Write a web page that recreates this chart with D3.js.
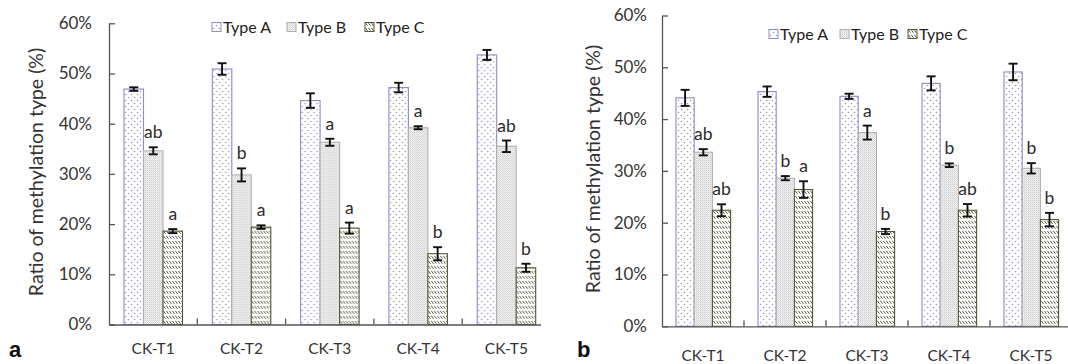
<!DOCTYPE html>
<html>
<head>
<meta charset="utf-8">
<script src="https://cdn.jsdelivr.net/npm/d3@7"></script>
<style>
  body { margin: 0; background: #fff; }
  svg { display: block; font-family: Lato, "Open Sans", sans-serif; }
</style>
</head>
<body>
<script>
const width = 1068;
const height = 364;

// categories and series
const categories = ["CK-T1", "CK-T2", "CK-T3", "CK-T4", "CK-T5"];
const seriesNames = ["Type A", "Type B", "Type C"];
const yTicks = [0, 10, 20, 30, 40, 50, 60];

// panel a : means (%)
const aTypeA = [46.9, 50.9, 44.6, 47.2, 53.7];
const aTypeB = [34.6, 29.8, 36.3, 39.2, 35.5];
const aTypeC = [18.6, 19.4, 19.2, 14.1, 11.3];
// panel a : error (+/-)
const aErrA = [0.35, 1.15, 1.45, 0.95, 1.0];
const aErrB = [0.7, 1.3, 0.7, 0.3, 1.15];
const aErrC = [0.4, 0.35, 1.1, 1.3, 0.8];
// panel a : letters
const aLetB = ["ab", "b", "a", "a", "ab"];
const aLetC = ["a", "a", "a", "b", "b"];

// panel b : means (%)
const bTypeA = [44.1, 45.3, 44.4, 46.9, 49.1];
const bTypeB = [33.6, 28.6, 37.4, 31.1, 30.5];
const bTypeC = [22.4, 26.4, 18.3, 22.4, 20.6];
// panel b : error (+/-)
const bErrA = [1.55, 1.0, 0.5, 1.35, 1.6];
const bErrB = [0.6, 0.4, 1.35, 0.35, 1.0];
const bErrC = [1.15, 1.6, 0.5, 1.2, 1.3];
// panel b : letters
const bLetB = ["ab", "b", "a", "b", "b"];
const bLetC = ["ab", "a", "b", "ab", "b"];

const svg = d3.select("body").append("svg")
    .attr("width", width)
    .attr("height", height);

// motifs de remplissage
const defs = svg.append("defs");

const pA = defs.append("pattern").attr("id", "patA")
    .attr("patternUnits", "userSpaceOnUse").attr("width", 6).attr("height", 6);
pA.append("rect").attr("width", 6).attr("height", 6).attr("fill", "#fff");
pA.append("circle").attr("cx", 1.5).attr("cy", 1.5).attr("r", 0.8).attr("fill", "#9a9ab4");
pA.append("circle").attr("cx", 4.5).attr("cy", 4.5).attr("r", 0.8).attr("fill", "#9a9ab4");

const pB = defs.append("pattern").attr("id", "patB")
    .attr("patternUnits", "userSpaceOnUse").attr("width", 2).attr("height", 2);
pB.append("rect").attr("width", 2).attr("height", 2).attr("fill", "#f2f2f2");
pB.append("rect").attr("width", 1).attr("height", 1).attr("fill", "#cdcdcd");
pB.append("rect").attr("x", 1).attr("y", 1).attr("width", 1).attr("height", 1).attr("fill", "#dedede");

const pC = defs.append("pattern").attr("id", "patC")
    .attr("patternUnits", "userSpaceOnUse").attr("width", 3).attr("height", 5);
pC.append("rect").attr("width", 3).attr("height", 5).attr("fill", "#fff");
pC.append("line").attr("x1", 0.3).attr("y1", 0.8).attr("x2", 2.5).attr("y2", 3.8)
    .attr("stroke", "#4a5030").attr("stroke-width", 0.95);

const fills = ["url(#patA)", "url(#patB)", "url(#patC)"];
const strokes = ["#8c8cc8", "#b0b0b0", "#4f5934"];

defs.append("clipPath").attr("id", "clipLeft")
    .append("rect").attr("x", 0).attr("y", 0).attr("width", 541).attr("height", height);

function drawPanel(cfg) {
    const g = svg.append("g");
    if (cfg.clip) g.attr("clip-path", "url(#" + cfg.clip + ")");

    const x = d3.scaleBand().domain(categories).range([cfg.x0, cfg.x0 + cfg.groupW * categories.length]);
    const xs = d3.scaleBand().domain(seriesNames)
        .range([cfg.inset, cfg.inset + cfg.barW * 3]);
    const y = d3.scaleLinear().domain([0, 60]).range([cfg.y0, cfg.y60]);

    const rows = categories.map((c, i) => ({
        cat: c,
        vals: [cfg.A[i], cfg.B[i], cfg.C[i]],
        errs: [cfg.eA[i], cfg.eB[i], cfg.eC[i]],
        lets: [null, cfg.lB[i], cfg.lC[i]]
    }));

    // barres
    const grp = g.selectAll("g.grp").data(rows).enter().append("g")
        .attr("transform", d => `translate(${x(d.cat)},0)`);

    const bars = grp.selectAll("g.bar")
        .data(d => d.vals.map((v, k) => ({ v: v, e: d.errs[k], l: d.lets[k], k: k })))
        .enter().append("g");

    bars.append("rect")
        .attr("x", d => xs(seriesNames[d.k]))
        .attr("y", d => y(d.v))
        .attr("width", xs.bandwidth())
        .attr("height", d => cfg.y0 - y(d.v))
        .attr("fill", d => fills[d.k])
        .attr("stroke", d => strokes[d.k])
        .attr("stroke-width", 1.1);

    // barres d'erreur
    const cx = d => xs(seriesNames[d.k]) + xs.bandwidth() / 2;
    bars.append("line")
        .attr("x1", cx).attr("x2", cx)
        .attr("y1", d => y(d.v - d.e)).attr("y2", d => y(d.v + d.e))
        .attr("stroke", "#111").attr("stroke-width", 1.9);
    [-1, 1].forEach(s => {
        bars.append("line")
            .attr("x1", d => cx(d) - 4.5).attr("x2", d => cx(d) + 4.5)
            .attr("y1", d => y(d.v + s * d.e)).attr("y2", d => y(d.v + s * d.e))
            .attr("stroke", "#111").attr("stroke-width", 1.9);
    });

    // lettres de significativité
    bars.filter(d => d.l).append("text")
        .attr("x", cx)
        .attr("y", d => y(d.v + d.e) - 9)
        .attr("text-anchor", "middle")
        .attr("font-size", "17.5px")
        .attr("fill", "#2a2a2a")
        .text(d => d.l);

    // axe Y
    const yAxis = g.append("g")
        .attr("transform", `translate(${cfg.x0},0)`)
        .call(d3.axisLeft(y).tickValues(yTicks).tickFormat(d => d + "%")
            .tickSize(-6).tickSizeOuter(0).tickPadding(cfg.tickPad));
    yAxis.selectAll("path, line").attr("stroke", "#555").attr("stroke-width", 1.3);
    yAxis.selectAll("text").attr("font-size", "17px").attr("fill", "#333")
        .attr("font-family", "Lato, sans-serif");

    // axe X
    const xAxis = g.append("g")
        .attr("transform", `translate(0,${cfg.y0})`)
        .call(d3.axisBottom(x).tickSize(0).tickPadding(cfg.labelPad));
    xAxis.select("path").attr("stroke", "#555").attr("stroke-width", 1.3);
    xAxis.selectAll("text").attr("font-size", "15.5px").attr("fill", "#333")
        .attr("font-family", "Lato, sans-serif");
    g.selectAll("line.xtick").data(categories.slice(1)).enter().append("line")
        .attr("x1", d => x(d)).attr("x2", d => x(d))
        .attr("y1", cfg.y0).attr("y2", cfg.y0 - 6)
        .attr("stroke", "#555").attr("stroke-width", 1.3);

    // titre de l'axe Y
    g.append("text")
        .attr("transform", `translate(${cfg.titleX},${cfg.titleY}) rotate(-90)`)
        .attr("text-anchor", "middle")
        .attr("dy", "0.35em")
        .attr("font-size", "19.5px")
        .attr("fill", "#333")
        .text("Ratio of methylation type (%)");

    // légende
    const leg = g.selectAll("g.leg").data(seriesNames).enter().append("g")
        .attr("transform", (d, i) => `translate(${cfg.legX[i]},${cfg.legY})`);
    leg.append("rect")
        .attr("x", 0).attr("y", -4.5).attr("width", 9).attr("height", 9)
        .attr("fill", (d, i) => fills[i])
        .attr("stroke", (d, i) => strokes[i]).attr("stroke-width", 1);
    leg.append("text")
        .attr("x", 11).attr("dy", "0.35em")
        .attr("font-size", "16px").attr("fill", "#222")
        .text(d => d);

    // étiquette du panneau
    svg.append("text")
        .attr("x", cfg.tagX).attr("y", cfg.tagY)
        .attr("font-family", "'Liberation Sans', Arial, sans-serif")
        .attr("font-weight", "bold").attr("font-size", "22px").attr("fill", "#111")
        .text(cfg.tag);
}

drawPanel({
    clip: "clipLeft",
    x0: 109, groupW: 88.3, inset: 15, barW: 19.5,
    y0: 324.5, y60: 23.3, tickPad: 17, labelPad: 18,
    A: aTypeA, B: aTypeB, C: aTypeC, eA: aErrA, eB: aErrB, eC: aErrC, lB: aLetB, lC: aLetC,
    titleX: 36, titleY: 172,
    legX: [212, 287, 365], legY: 27,
    tag: "a", tagX: 9, tagY: 357
});

drawPanel({
    clip: null,
    x0: 662, groupW: 82, inset: 14, barW: 18.2,
    y0: 326.3, y60: 15.5, tickPad: 15, labelPad: 24,
    A: bTypeA, B: bTypeB, C: bTypeC, eA: bErrA, eB: bErrB, eC: bErrC, lB: bLetB, lC: bLetC,
    titleX: 593, titleY: 169,
    legX: [769, 840, 908], legY: 34,
    tag: "b", tagX: 577, tagY: 357
});
</script>
</body>
</html>
